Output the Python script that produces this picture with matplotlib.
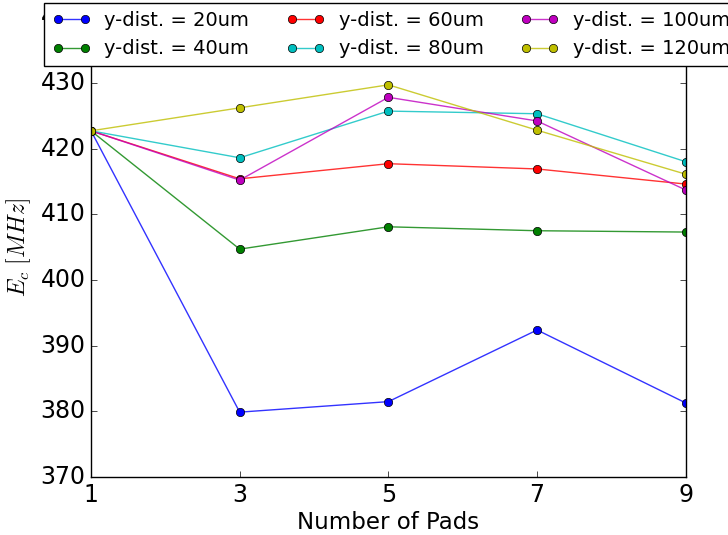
import matplotlib
matplotlib.use("Agg")
import matplotlib.pyplot as plt
from matplotlib.colors import to_rgba

plt.style.use("classic")

pads = [1, 3, 5, 7, 9]
labels = ["y-dist. = 20um", "y-dist. = 40um", "y-dist. = 60um",
          "y-dist. = 80um", "y-dist. = 100um", "y-dist. = 120um"]
d20 = [422.7, 379.9, 381.5, 392.4, 381.3]
d40 = [422.7, 404.7, 408.1, 407.5, 407.3]
d60 = [422.7, 415.4, 417.7, 416.9, 414.6]
d80 = [422.7, 418.6, 425.7, 425.3, 418.0]
d100 = [422.7, 415.2, 427.8, 424.2, 413.7]
d120 = [422.7, 426.2, 429.7, 422.8, 416.1]
series = [d20, d40, d60, d80, d100, d120]
colors = ["b", "g", "r", "c", "m", "y"]

fig = plt.figure(figsize=(7.28, 5.35), dpi=100)
fig.patch.set_facecolor("white")
ax = fig.add_axes([0.125, 0.108, 0.817, 0.860])
for vals, c, lab in zip(series, colors, labels):
    ax.plot(pads, vals, "-o", color=to_rgba(c, 0.8), markerfacecolor=c,
            markeredgecolor="k", markeredgewidth=0.5,
            label=lab, markersize=6, linewidth=1.0)

ax.set_xlim(1, 9)
ax.set_ylim(370, 440)
ax.set_xticks(pads)
ax.set_yticks([370, 380, 390, 400, 410, 420, 430, 440])
ax.tick_params(labelsize=17)
ax.set_xlabel("Number of Pads", fontsize=16.5, labelpad=3)
ax.set_ylabel(r"$E_c\ [MHz]$", fontsize=17)

leg = fig.legend(loc="upper left", bbox_to_anchor=(44/728, 1 - 3/535),
                 ncol=3, fontsize=14, numpoints=2, borderaxespad=0,
                 frameon=True, columnspacing=1.9, handlelength=2.0,
                 handletextpad=0.7, labelspacing=0.5, borderpad=0.4)
leg.get_frame().set_facecolor("white")

fig.savefig("out.png", dpi=100, facecolor="white")
